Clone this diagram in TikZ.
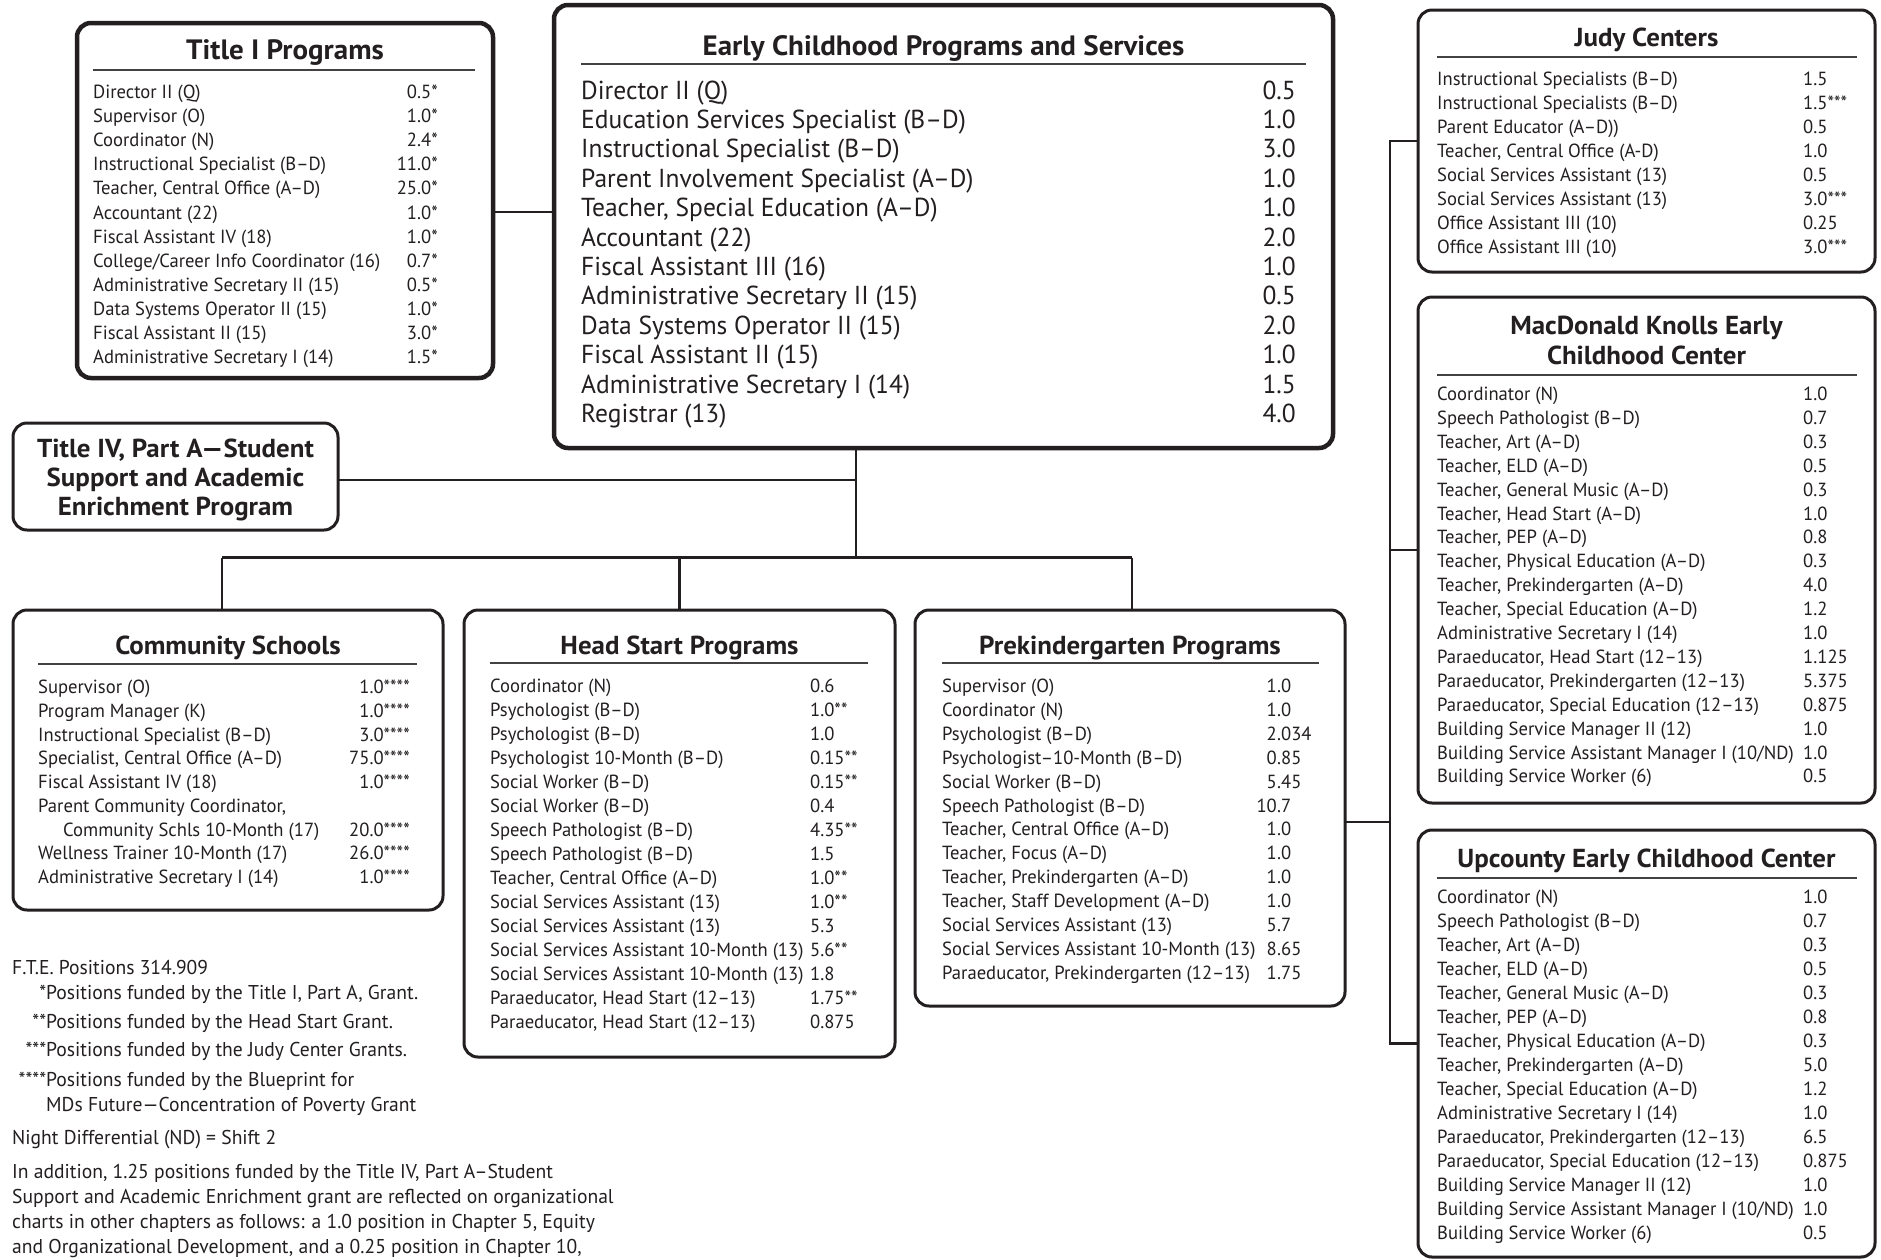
\documentclass[tikz,border=0pt]{standalone}
\usepackage{fontspec}
\setmainfont{PT Sans}[FakeStretch=0.98]
\newfontfamily\tfont{PT Sans}[FakeStretch=1.035]
\definecolor{ink}{HTML}{231F20}
\newcounter{ri}
\newcommand\SetRows[5]{\def\bp{#1}\def\bxl{#2}\def\bxv{#3}\def\byo{#4}\def\bdy{#5}\setcounter{ri}{0}}
\newcommand\RowR[2]{%
  \node[currow,anchor=base west] (\bp n\theri) at (\bxl,{\byo+\theri*\bdy}) {#1};
  \node[currow,anchor=base east] (\bp v\theri) at (\bxv,{\byo+\theri*\bdy}) {#2};
  \stepcounter{ri}}
\newcommand\RowL[2]{%
  \node[currow,anchor=base west] (\bp n\theri) at (\bxl,{\byo+\theri*\bdy}) {#1};
  \node[currow,anchor=base west] (\bp v\theri) at (\bxv,{\byo+\theri*\bdy}) {#2};
  \stepcounter{ri}}
\newcommand\RowN[1]{%
  \node[currow,anchor=base west] (\bp n\theri) at (\bxl,{\byo+\theri*\bdy}) {#1};
  \stepcounter{ri}}
\newcommand\RowD[3]{%
  \node[currow,anchor=base west] (\bp n\theri) at (\bxl,{\byo+\theri*\bdy}) {#1};
  \node[currow,anchor=base east] (\bp i\theri) at (\bxv,{\byo+\theri*\bdy}) {#2};
  \node[currow,anchor=base west] (\bp v\theri) at (\bxv,{\byo+\theri*\bdy}) {.#3};
  \stepcounter{ri}}
\tikzset{
  box/.style={draw=ink, rounded corners=14pt, line width=3pt, inner sep=0pt, fill=white},
  bigbox/.style={box, line width=4.5pt},
  conn/.style={draw=ink, line width=2.7pt},
  rulel/.style={draw=ink!85, line width=1.3pt},
  rowt/.style={inner sep=0pt, font=\fontsize{19}{23}\selectfont, text=ink},
  bigrow/.style={inner sep=0pt, font=\fontsize{26}{30}\selectfont, text=ink},
  ttl/.style={inner sep=0pt, font=\tfont\bfseries\fontsize{26}{30}\selectfont, text=ink, anchor=base},
  bigttl/.style={ttl, font=\tfont\bfseries\fontsize{28}{32}\selectfont},
  currow/.style={rowt},
  note/.style={inner sep=0pt, font=\fontsize{20}{24}\selectfont, text=ink, anchor=base west},
}
\begin{document}
\begin{tikzpicture}[x=1pt,y=-1pt]
\fill[white] (0,0) rectangle (1881,1259);
\useasboundingbox (0,0) rectangle (1881,1259);

% ---------- boxes ----------
\node[bigbox, minimum width=416pt, minimum height=355pt] (ti) at (285,200.5) {};
\node[bigbox, minimum width=779pt, minimum height=443pt] (ecps) at (943.5,226.5) {};
\node[box, minimum width=325pt, minimum height=107pt] (t4) at (175.5,476.5) {};
\node[box, minimum width=430pt, minimum height=300pt] (cs) at (228,760) {};
\node[box, minimum width=431pt, minimum height=447pt] (hs) at (679.5,833.5) {};
\node[box, minimum width=430pt, minimum height=396pt] (pk) at (1130,808) {};
\node[box, minimum width=457pt, minimum height=262pt] (jc) at (1646.5,141) {};
\node[box, minimum width=457pt, minimum height=506pt] (mk) at (1646.5,550) {};
\node[box, minimum width=457pt, minimum height=427pt] (uc) at (1646.5,1043.5) {};

% ---------- connectors ----------
\coordinate (tiout) at (493,212);
\draw[conn] (tiout) -- (tiout -| ecps.west);
\coordinate (ecb) at (856,448);
\coordinate (bus) at (856,557.5);
\draw[conn] (ecps.south -| ecb) -- (bus);
\coordinate (t4out) at (338,480);
\draw[conn] (t4out) -- (t4out -| ecb);
\coordinate (bl) at (222,557.5);
\coordinate (br) at (1132,557.5);
\draw[conn] (bl) -- (br);
\draw[conn] (bl) -- (bl |- cs.north);
\draw[conn] (hs.north |- bl) -- (hs.north);
\draw[conn] (br) -- (br |- pk.north);
\coordinate (rv) at (1390,0);
\draw[conn] (jc.west) -- (jc.west -| rv) -- (uc.west -| rv) -- (uc.west);
\draw[conn] (mk.west) -- (mk.west -| rv);
\coordinate (pkout) at (1345,822);
\draw[conn] (pkout) -- (pkout -| rv);

% ---------- Title I ----------
\node[ttl, font=\tfont\bfseries\fontsize{28}{32}\selectfont] (tiT) at (285,59.5) {Title I Programs};
\draw[rulel] (93,70) -- (475,70);
\tikzset{currow/.style={rowt}}
\SetRows{ti}{93}{438}{98.5}{24.1}
\RowR{Director II (Q)}{0.5*}
\RowR{Supervisor (O)}{1.0*}
\RowR{Coordinator (N)}{2.4*}
\RowR{Instructional Specialist (B–D)}{11.0*}
\RowR{Teacher, Central Office (A–D)}{25.0*}
\RowR{Accountant (22)}{1.0*}
\RowR{Fiscal Assistant IV (18)}{1.0*}
\RowR{College/Career Info Coordinator (16)}{0.7*}
\RowR{Administrative Secretary II (15)}{0.5*}
\RowR{Data Systems Operator II (15)}{1.0*}
\RowR{Fiscal Assistant II (15)}{3.0*}
\RowR{Administrative Secretary I (14)}{1.5*}

% ---------- Early Childhood Programs and Services ----------
\node[bigttl] (ecT) at (943.5,55) {Early Childhood Programs and Services};
\draw[rulel] (581,64) -- (1306,64);
\tikzset{currow/.style={bigrow}}
\SetRows{ec}{581}{1296}{99}{29.4}
\RowR{Director II (Q)}{0.5}
\RowR{Education Services Specialist (B–D)}{1.0}
\RowR{Instructional Specialist (B–D)}{3.0}
\RowR{Parent Involvement Specialist (A–D)}{1.0}
\RowR{Teacher, Special Education (A–D)}{1.0}
\RowR{Accountant (22)}{2.0}
\RowR{Fiscal Assistant III (16)}{1.0}
\RowR{Administrative Secretary II (15)}{0.5}
\RowR{Data Systems Operator II (15)}{2.0}
\RowR{Fiscal Assistant II (15)}{1.0}
\RowR{Administrative Secretary I (14)}{1.5}
\RowR{Registrar (13)}{4.0}

% ---------- Title IV ----------
\node[ttl] (t4a) at (175.5,457) {Title IV, Part A—Student};
\node[ttl] (t4b) at (175.5,486) {Support and Academic};
\node[ttl] (t4c) at (175.5,515) {Enrichment Program};

% ---------- Community Schools ----------
\node[ttl] (csT) at (228,654) {Community Schools};
\draw[rulel] (38,664) -- (417,664);
\tikzset{currow/.style={rowt}}
\SetRows{cs}{38}{410}{693.5}{23.75}
\RowR{Supervisor (O)}{1.0****}
\RowR{Program Manager (K)}{1.0****}
\RowR{Instructional Specialist (B–D)}{3.0****}
\RowR{Specialist, Central Office (A–D)}{75.0****}
\RowR{Fiscal Assistant IV (18)}{1.0****}
\RowN{Parent Community Coordinator,}
\RowR{\hspace*{25pt}Community Schls 10-Month (17)}{20.0****}
\RowR{Wellness Trainer 10-Month (17)}{26.0****}
\RowR{Administrative Secretary I (14)}{1.0****}

% ---------- Head Start ----------
\node[ttl] (hsT) at (679.5,654) {Head Start Programs};
\draw[rulel] (490,663) -- (868,663);
\SetRows{hs}{490}{810}{692.5}{24}
\RowL{Coordinator (N)}{0.6}
\RowL{Psychologist (B–D)}{1.0**}
\RowL{Psychologist (B–D)}{1.0}
\RowL{Psychologist 10-Month (B–D)}{0.15**}
\RowL{Social Worker (B–D)}{0.15**}
\RowL{Social Worker (B–D)}{0.4}
\RowL{Speech Pathologist (B–D)}{4.35**}
\RowL{Speech Pathologist (B–D)}{1.5}
\RowL{Teacher, Central Office (A–D)}{1.0**}
\RowL{Social Services Assistant (13)}{1.0**}
\RowL{Social Services Assistant (13)}{5.3}
\RowL{Social Services Assistant 10-Month (13)}{5.6**}
\RowL{Social Services Assistant 10-Month (13)}{1.8}
\RowL{Paraeducator, Head Start (12–13)}{1.75**}
\RowL{Paraeducator, Head Start (12–13)}{0.875}

% ---------- Prekindergarten ----------
\node[ttl] (pkT) at (1130,654) {Prekindergarten Programs};
\draw[rulel] (942,663) -- (1319,663);
\SetRows{pk}{942}{1277}{692.5}{23.9}
\RowD{Supervisor (O)}{1}{0}
\RowD{Coordinator (N)}{1}{0}
\RowD{Psychologist (B–D)}{2}{034}
\RowD{Psychologist–10-Month (B–D)}{0}{85}
\RowD{Social Worker (B–D)}{5}{45}
\RowD{Speech Pathologist (B–D)}{10}{7}
\RowD{Teacher, Central Office (A–D)}{1}{0}
\RowD{Teacher, Focus (A–D)}{1}{0}
\RowD{Teacher, Prekindergarten (A–D)}{1}{0}
\RowD{Teacher, Staff Development (A–D)}{1}{0}
\RowD{Social Services Assistant (13)}{5}{7}
\RowD{Social Services Assistant 10-Month (13)}{8}{65}
\RowD{Paraeducator, Prekindergarten (12–13)}{1}{75}

% ---------- Judy Centers ----------
\node[ttl] (jcT) at (1646.5,46) {Judy Centers};
\draw[rulel] (1437,57) -- (1857,57);
\SetRows{jc}{1437}{1803}{85.5}{24}
\RowL{Instructional Specialists (B–D)}{1.5}
\RowL{Instructional Specialists (B–D)}{1.5***}
\RowL{Parent Educator (A–D))}{0.5}
\RowL{Teacher, Central Office (A-D)}{1.0}
\RowL{Social Services Assistant (13)}{0.5}
\RowL{Social Services Assistant (13)}{3.0***}
\RowL{Office Assistant III (10)}{0.25}
\RowL{Office Assistant III (10)}{3.0***}

% ---------- MacDonald Knolls ----------
\node[ttl] (mkT1) at (1646.5,334) {MacDonald Knolls Early};
\node[ttl] (mkT2) at (1646.5,364) {Childhood Center};
\draw[rulel] (1437,375) -- (1857,375);
\SetRows{mk}{1437}{1803}{400.5}{23.9}
\RowL{Coordinator (N)}{1.0}
\RowL{Speech Pathologist (B–D)}{0.7}
\RowL{Teacher, Art (A–D)}{0.3}
\RowL{Teacher, ELD (A–D)}{0.5}
\RowL{Teacher, General Music (A–D)}{0.3}
\RowL{Teacher, Head Start (A–D)}{1.0}
\RowL{Teacher, PEP (A–D)}{0.8}
\RowL{Teacher, Physical Education (A–D)}{0.3}
\RowL{Teacher, Prekindergarten (A–D)}{4.0}
\RowL{Teacher, Special Education (A–D)}{1.2}
\RowL{Administrative Secretary I (14)}{1.0}
\RowL{Paraeducator, Head Start (12–13)}{1.125}
\RowL{Paraeducator, Prekindergarten (12–13)}{5.375}
\RowL{Paraeducator, Special Education (12–13)}{0.875}
\RowL{Building Service Manager II (12)}{1.0}
\RowL{Building Service Assistant Manager I (10/ND)}{1.0}
\RowL{Building Service Worker (6)}{0.5}

% ---------- Upcounty ----------
\node[ttl] (ucT) at (1646.5,867) {Upcounty Early Childhood Center};
\draw[rulel] (1437,878) -- (1857,878);
\SetRows{uc}{1437}{1803}{903.5}{24}
\RowL{Coordinator (N)}{1.0}
\RowL{Speech Pathologist (B–D)}{0.7}
\RowL{Teacher, Art (A–D)}{0.3}
\RowL{Teacher, ELD (A–D)}{0.5}
\RowL{Teacher, General Music (A–D)}{0.3}
\RowL{Teacher, PEP (A–D)}{0.8}
\RowL{Teacher, Physical Education (A–D)}{0.3}
\RowL{Teacher, Prekindergarten (A–D)}{5.0}
\RowL{Teacher, Special Education (A–D)}{1.2}
\RowL{Administrative Secretary I (14)}{1.0}
\RowL{Paraeducator, Prekindergarten (12–13)}{6.5}
\RowL{Paraeducator, Special Education (12–13)}{0.875}
\RowL{Building Service Manager II (12)}{1.0}
\RowL{Building Service Assistant Manager I (10/ND)}{1.0}
\RowL{Building Service Worker (6)}{0.5}

% ---------- notes ----------
\node[note] (n0) at (12,974.5) {F.T.E. Positions 314.909};
\node[note] (n1) at (46,999.5) {\llap{*}Positions funded by the Title I, Part A, Grant.};
\node[note] (n2) at (46,1028.5) {\llap{**}Positions funded by the Head Start Grant.};
\node[note] (n3) at (46,1056.5) {\llap{***}Positions funded by the Judy Center Grants.};
\node[note] (n4) at (46,1086.5) {\llap{****}Positions funded by the Blueprint for};
\node[note] (n5) at (46,1111.5) {MDs Future—Concentration of Poverty Grant};
\node[note] (n6) at (12,1144.5) {Night Differential (ND) = Shift 2};
\node[note] (n7) at (12,1178.5) {In addition, 1.25 positions funded by the Title IV, Part A–Student};
\node[note] (n8) at (12,1203.5) {Support and Academic Enrichment grant are reflected on organizational};
\node[note] (n9) at (12,1228.5) {charts in other chapters as follows: a 1.0 position in Chapter 5, Equity};
\node[note] (n10) at (12,1253.5) {and Organizational Development, and a 0.25 position in Chapter 10,};
\end{tikzpicture}
\end{document}
